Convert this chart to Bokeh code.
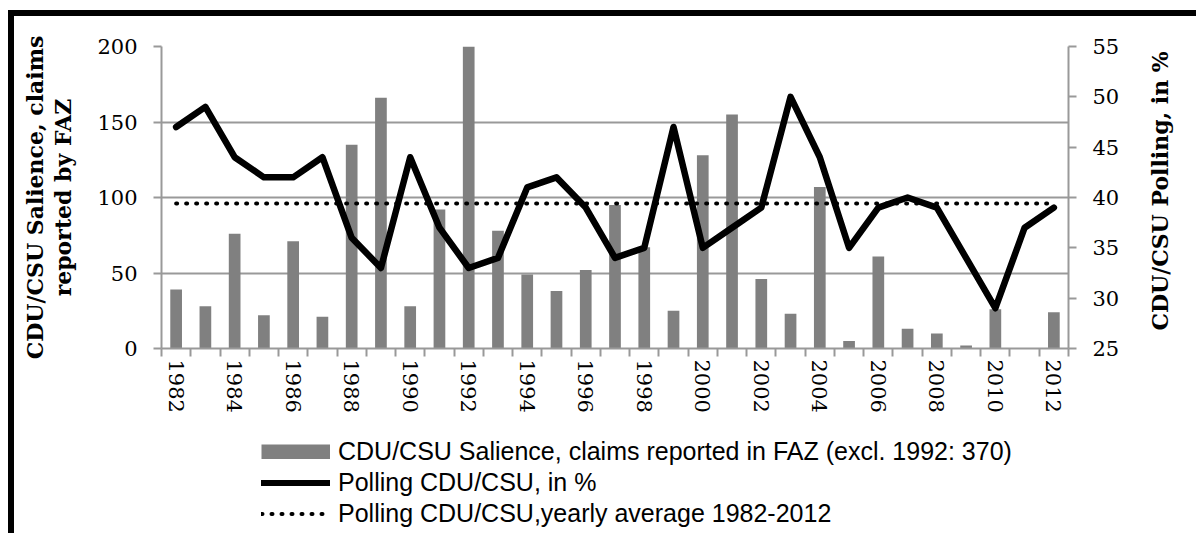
import math
from bokeh.plotting import figure
from bokeh.layouts import column, row
from bokeh.models import Range1d, LinearAxis, FixedTicker, Legend, LegendItem
from bokeh.core.properties import value
from bokeh.embed import file_html
from bokeh.resources import INLINE

years = [1982, 1983, 1984, 1985, 1986, 1987, 1988, 1989, 1990, 1991,
         1992, 1993, 1994, 1995, 1996, 1997, 1998, 1999, 2000, 2001,
         2002, 2003, 2004, 2005, 2006, 2007, 2008, 2009, 2010, 2011, 2012]
# claims reported in FAZ (1992 = 370, cut off at the top of the axis)
salience = [39, 28, 76, 22, 71, 21, 135, 166, 28, 92,
            370, 78, 49, 38, 52, 95, 67, 25, 128, 155,
            46, 23, 107, 5, 61, 13, 10, 2, 26, 0, 24]
# polling CDU/CSU in %
polling = [47, 49, 44, 42, 42, 44, 36, 33, 44, 37,
           33, 34, 41, 42, 39, 34, 35, 47, 35, 37,
           39, 50, 44, 35, 39, 40, 39, 34, 29, 37, 39]
polling_average = 39.4
year_labels = [1982, 1984, 1986, 1988, 1990, 1992, 1994, 1996, 1998, 2000,
               2002, 2004, 2006, 2008, 2010, 2012]
left_ticks = [0, 50, 100, 150, 200]
right_ticks = [25, 30, 35, 40, 45, 50, 55]

LEFT_TITLE = "CDU/CSU Salience, claims\nreported by FAZ"
RIGHT_TITLE = "CDU/CSU Polling, in %"
LEGEND_LABELS = ["CDU/CSU Salience, claims reported in FAZ (excl. 1992: 370)",
                 "Polling CDU/CSU, in %",
                 "Polling CDU/CSU,yearly average 1982-2012"]

SERIF = "DejaVu Serif"
GRID = "#999999"
BAR = "#808080"

TOP_H = 414

p = figure(frame_width=907, frame_height=302,
           min_border_left=147, min_border_right=72,
           min_border_top=30, min_border_bottom=82,
           x_range=Range1d(years[0] - 0.5, years[-1] + 0.5),
           y_range=Range1d(0, 200),
           output_backend="svg", toolbar_location=None)
p.extra_y_ranges = {"poll": Range1d(25, 55)}
p.outline_line_color = None
p.background_fill_color = "white"
p.border_fill_color = "white"

# grid
p.xgrid.visible = False
p.ygrid.ticker = FixedTicker(ticks=left_ticks)
p.ygrid.grid_line_color = GRID
p.ygrid.grid_line_width = 2

# x axis
xa = p.xaxis[0]
xa.ticker = FixedTicker(ticks=year_labels,
                        minor_ticks=[y - 0.5 for y in years] + [years[-1] + 0.5])
xa.major_tick_out = 0
xa.major_tick_in = 0
xa.minor_tick_out = 8
xa.minor_tick_in = 0
xa.minor_tick_line_color = GRID
xa.minor_tick_line_width = 2
xa.axis_line_color = GRID
xa.axis_line_width = 2
xa.major_label_orientation = "vertical"
xa.major_label_standoff = 3
xa.major_label_text_font = SERIF
xa.major_label_text_font_size = "21px"
xa.major_label_text_color = "black"

# left axis
ya = p.yaxis[0]
ya.ticker = FixedTicker(ticks=left_ticks)
ya.major_tick_out = 8
ya.major_tick_in = 0
ya.minor_tick_out = 0
ya.major_tick_line_color = GRID
ya.major_tick_line_width = 2
ya.axis_line_color = GRID
ya.axis_line_width = 2
ya.major_label_standoff = 16
ya.major_label_text_font = SERIF
ya.major_label_text_font_size = "21px"
ya.major_label_text_color = "black"
ya.axis_label = LEFT_TITLE
ya.axis_label_text_font = SERIF
ya.axis_label_text_font_style = "bold"
ya.axis_label_text_font_size = "22px"
ya.axis_label_text_color = "black"
ya.axis_label_text_line_height = 1.1
ya.axis_label_standoff = 18

# right axis (its title is drawn in the narrow panel beside it)
ra = LinearAxis(y_range_name="poll", ticker=FixedTicker(ticks=right_ticks))
ra.major_tick_out = 8
ra.major_tick_in = 0
ra.minor_tick_out = 0
ra.major_tick_line_color = GRID
ra.major_tick_line_width = 2
ra.axis_line_color = GRID
ra.axis_line_width = 2
ra.major_label_standoff = 16
ra.major_label_text_font = SERIF
ra.major_label_text_font_size = "21px"
ra.major_label_text_color = "black"
p.add_layout(ra, "right")

bars = p.vbar(x=years, top=salience, width=0.4, fill_color=BAR, line_color=None)
avg = p.line(years, [polling_average] * len(years), y_range_name="poll",
             line_color="black", line_width=4, line_dash="1 9", line_cap="round")
poll = p.line(years, polling, y_range_name="poll", line_color="black",
              line_width=6.5, line_join="round", line_cap="round")

# right-hand title, reading bottom to top
pt = figure(width=56, height=TOP_H, x_range=Range1d(0, 56), y_range=Range1d(0, TOP_H),
            min_border=0, x_axis_location=None, y_axis_location=None,
            output_backend="svg", toolbar_location=None)
pt.grid.visible = False
pt.outline_line_color = None
pt.text(x=[19], y=[216], text=[RIGHT_TITLE], angle=math.pi / 2,
        text_align="center", text_baseline="middle",
        text_font=value(SERIF), text_font_style="bold",
        text_font_size="22px", text_color="black")

# legend strip below the chart (legend swatches come from off-range sample renderers)
pl = figure(width=1182, height=103, x_range=Range1d(0, 1182), y_range=Range1d(0, 103),
            min_border=0, x_axis_location=None, y_axis_location=None,
            output_backend="svg", toolbar_location=None)
pl.grid.visible = False
pl.outline_line_color = None
swatch_x = [-200, -100]
swatch_y = [-200, -200]
lg_bar = pl.line(x=swatch_x, y=swatch_y, line_color=BAR, line_width=15, line_cap="butt")
lg_poll = pl.line(x=swatch_x, y=swatch_y, line_color="black", line_width=6, line_cap="round")
lg_avg = pl.line(x=swatch_x, y=swatch_y, line_color="black", line_width=4, line_dash="1 9",
                 line_cap="round")
legend = Legend(items=[
    LegendItem(label=LEGEND_LABELS[0], renderers=[lg_bar]),
    LegendItem(label=LEGEND_LABELS[1], renderers=[lg_poll]),
    LegendItem(label=LEGEND_LABELS[2], renderers=[lg_avg]),
], location=(247, 5), orientation="vertical",
    label_text_font="Liberation Sans",
    label_text_font_size="25px", label_text_color="black",
    glyph_width=69, glyph_height=15, label_height=15, label_standoff=8, spacing=2,
    padding=0, margin=0, border_line_color=None, background_fill_alpha=0)
pl.add_layout(legend)

layout = column(row(p, pt), pl,
                styles={"margin-left": "8px", "margin-top": "10px",
                        "border-left": "6px solid black",
                        "border-top": "6px solid black"})

open("out.html", "w").write(file_html(layout, INLINE))
